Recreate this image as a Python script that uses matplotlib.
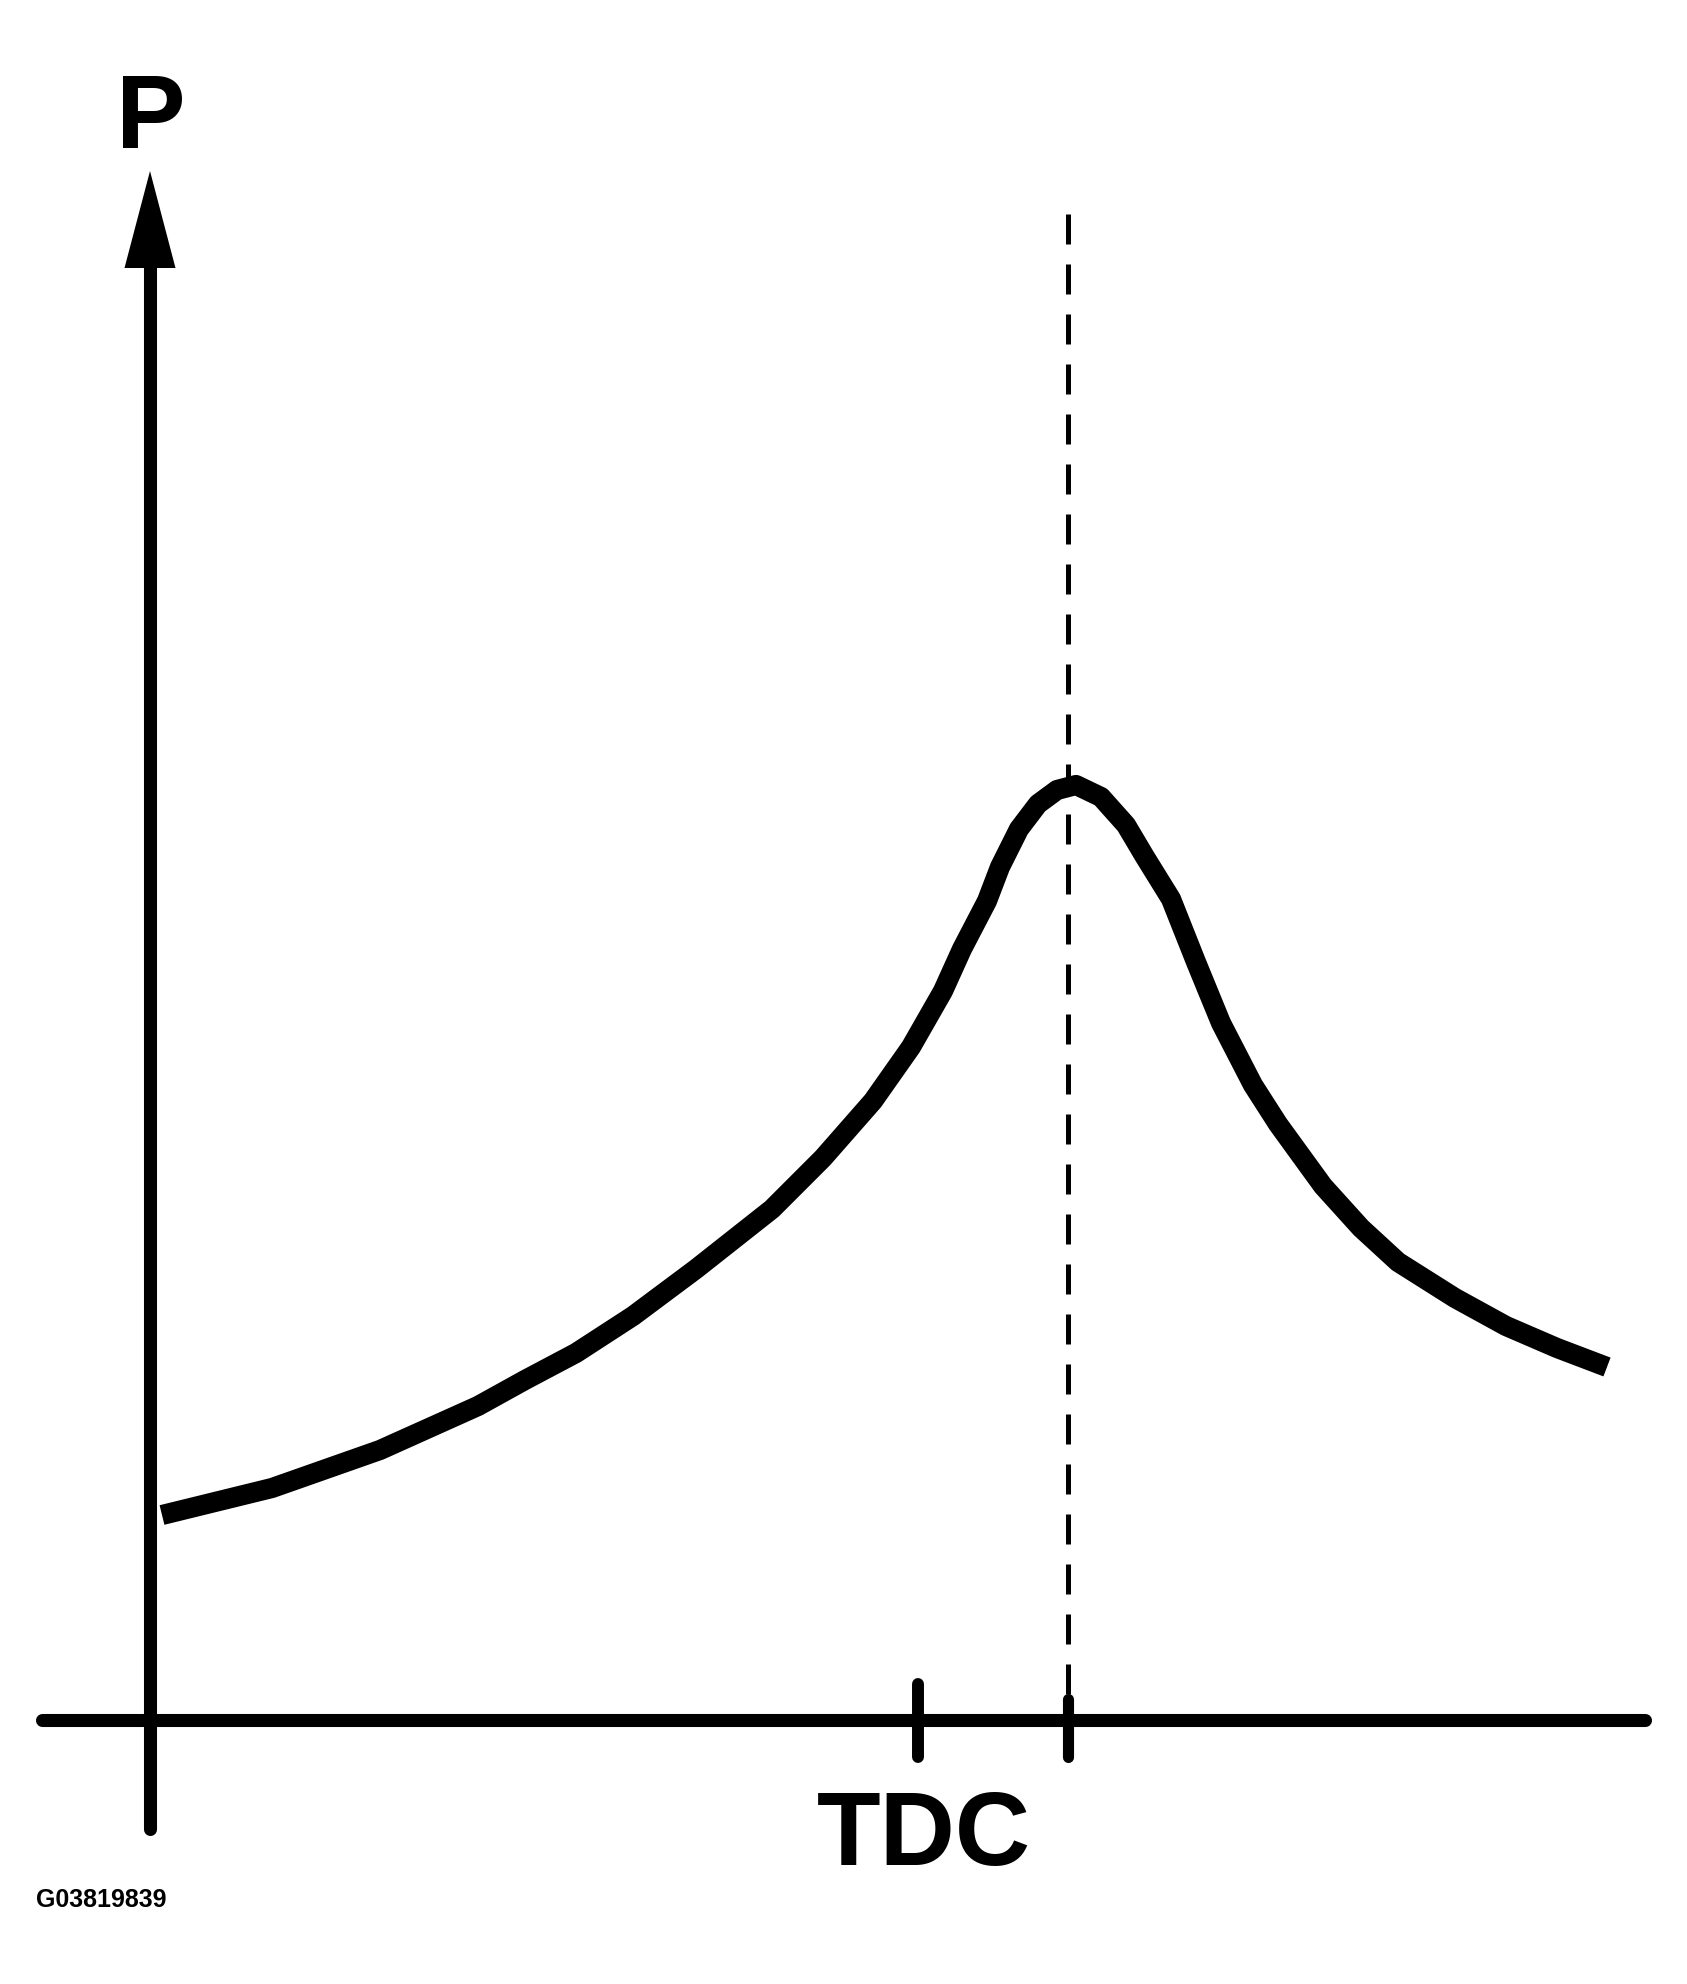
# Cylinder pressure vs crank angle diagram
# P rises through compression, peaks a little after TDC

import numpy as np
import matplotlib.pyplot as plt

plt.rcParams['font.family'] = ['Liberation Sans', 'DejaVu Sans']

# crank angle (deg, TDC = 0) and pressure (arbitrary units)
crank_angle = [-75.6, -64.6, -53.8, -44.0, -39.3, -34.2, -28.5, -22.2, -14.6, -9.5,
               -4.5, -0.7, 2.5, 4.4, 6.9, 8.2, 10.1, 12.0, 13.9, 15.8,
               18.3, 20.8, 22.7, 25.3, 27.8, 30.3, 33.5, 36.0, 40.5, 44.3,
               48.0, 53.7, 58.8, 63.9, 68.9]
pressure = [20.5, 23.2, 27.0, 31.4, 34.0, 36.7, 40.4, 45.1, 51.1, 56.2,
            61.9, 67.3, 72.9, 77.1, 81.9, 85.3, 89.1, 91.6, 93.0, 93.5,
            92.3, 89.5, 86.3, 82.1, 75.8, 69.7, 63.5, 59.6, 53.4, 49.2,
            45.8, 42.2, 39.4, 37.2, 35.3]

tdc_angle = 0.0
peak_angle = 15.0
y_axis_angle = -76.8
x_axis_range = (-87.6, 72.7)
y_axis_top = 145.2      # base of arrow head
arrow_tip = 154.9
y_axis_bottom = -10.9

y_label = "P"
x_label = "TDC"
figure_code = "G03819839"

fig = plt.figure(figsize=(16.87, 19.84), dpi=100)
ax = fig.add_axes([0, 0, 1, 1])
ax.set_xlim(-91.8, 76.9)
ax.set_ylim(-26.4, 172.0)
ax.axis('off')

# axes drawn by hand
ax.plot(x_axis_range, [0, 0], color='black', lw=9.4, solid_capstyle='round')
ax.plot([y_axis_angle, y_axis_angle], [y_axis_bottom, y_axis_top + 1],
        color='black', lw=9.4, solid_capstyle='round')
ax.fill([y_axis_angle - 2.55, y_axis_angle + 2.55, y_axis_angle],
        [y_axis_top, y_axis_top, arrow_tip], color='black', lw=0)

# tick marks at TDC and at peak pressure
ax.plot([tdc_angle, tdc_angle], [-3.7, 3.6], color='black', lw=8.6,
        solid_capstyle='round')
ax.plot([peak_angle, peak_angle], [-3.7, 2.1], color='black', lw=8.0,
        solid_capstyle='round')

# dashed line up through the peak
ax.plot([peak_angle, peak_angle], [150.6, 2.0], color='black', lw=3.6,
        linestyle=(0, (6, 4)))

# pressure curve
ax.plot(crank_angle, pressure, color='black', lw=14.5, solid_capstyle='butt',
        solid_joinstyle='round')

ax.text(y_axis_angle + 0.1, 157.2, y_label, fontsize=75, fontweight='bold',
        ha='center', va='baseline')
ax.text(0.6, -14.5, x_label, fontsize=75, fontweight='bold',
        ha='center', va='baseline')
ax.text(-88.2, -18.7, figure_code, fontsize=18, fontweight='bold',
        ha='left', va='baseline')

fig.savefig("out.png", dpi=100, facecolor='white')
